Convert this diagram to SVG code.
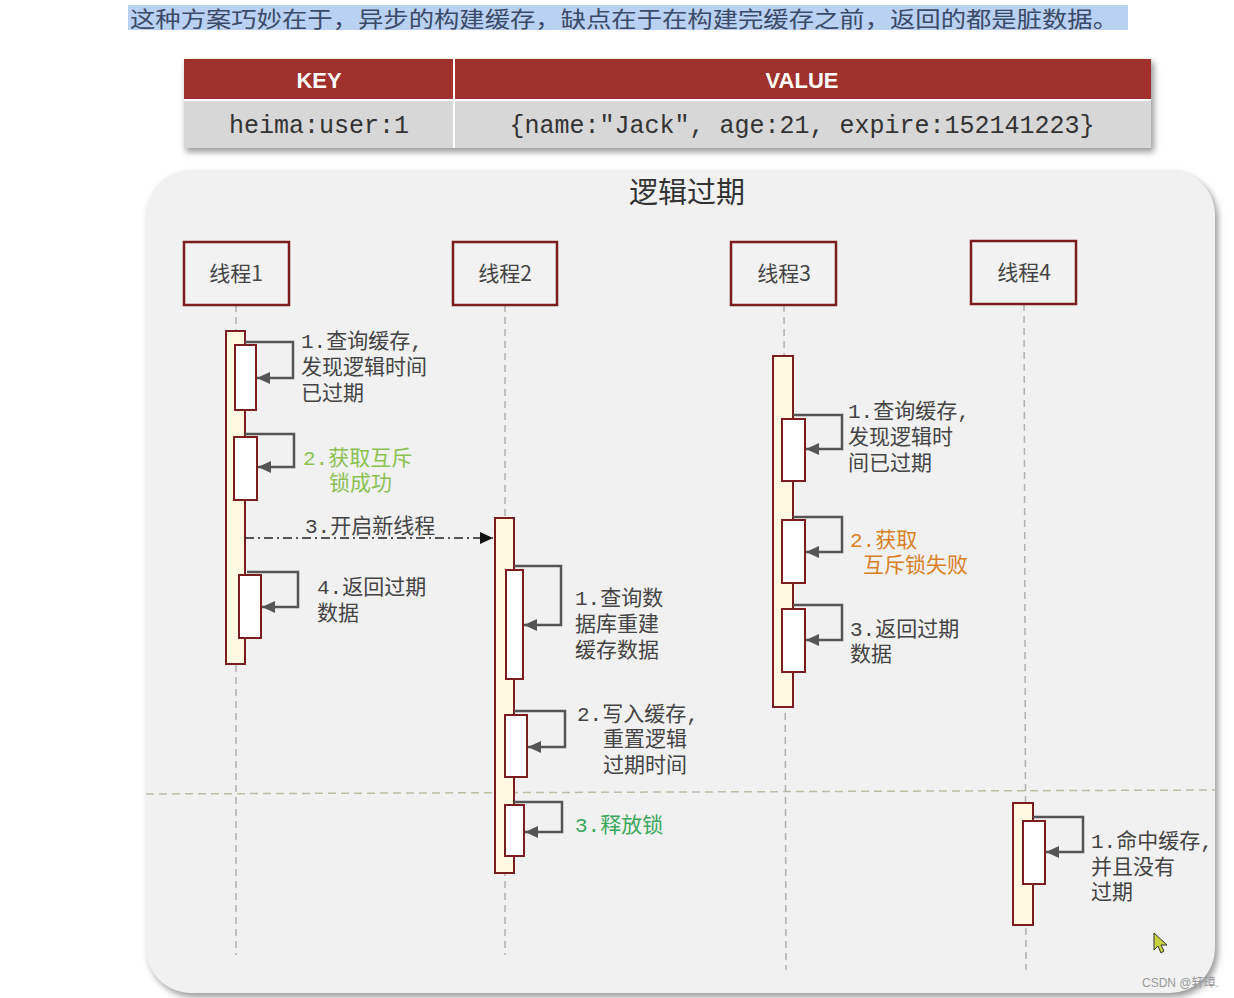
<svg xmlns="http://www.w3.org/2000/svg" width="1234" height="998" viewBox="0 0 1234 998">
<defs>
<style>
.lbl{font-family:"Liberation Mono","Noto Sans CJK SC",monospace;font-size:21px;fill:#444}
.th{font-family:"Noto Sans CJK SC","Liberation Sans",sans-serif;font-size:21px;fill:#444;text-anchor:middle}
.head{stroke:#7b1c1f;stroke-width:2.5;fill:#f2f2f2}
.act{stroke:#7b1c1f;stroke-width:2;fill:#fff9e1}
.inn{stroke:#7b1c1f;stroke-width:2;fill:#ffffff}
.life{stroke:#b0b0b0;stroke-width:1.5;stroke-dasharray:7 5;fill:none}
.self{stroke:#555;stroke-width:2.5;fill:none}
.mono{font-family:"Liberation Mono","DejaVu Sans Mono",monospace;font-size:25px;fill:#333;text-anchor:middle}
</style>
<marker id="ah" markerUnits="userSpaceOnUse" markerWidth="14" markerHeight="14" refX="13" refY="7" orient="auto">
<path d="M0,1 L13,7 L0,13 Z" fill="#555"/>
</marker>
<marker id="ahb" markerUnits="userSpaceOnUse" markerWidth="14" markerHeight="14" refX="13" refY="7" orient="auto">
<path d="M0,1 L13,7 L0,13 Z" fill="#111"/>
</marker>
<filter id="sh" x="-5%" y="-5%" width="110%" height="115%">
<feGaussianBlur stdDeviation="3"/>
</filter>
</defs>
<rect width="1234" height="998" fill="#ffffff"/>

<!-- top highlighted text -->
<g id="top-text">
<rect x="128" y="5" width="1000" height="25" fill="#b9d1f3"/>
<text x="130" y="27" font-family="Noto Sans CJK SC, sans-serif" font-size="22" textLength="988" lengthAdjust="spacingAndGlyphs" fill="#3b4a66">这种方案巧妙在于，异步的构建缓存，缺点在于在构建完缓存之前，返回的都是脏数据。</text>
</g>

<!-- table -->
<g id="table">
<rect x="186" y="62" width="968" height="90" fill="#999" filter="url(#sh)"/>
<rect x="184" y="59" width="967" height="41" fill="#a0302c"/>
<rect x="184" y="100" width="967" height="48" fill="#d7d7d7"/>
<line x1="454" y1="59" x2="454" y2="148" stroke="#ffffff" stroke-width="2"/>
<line x1="184" y1="100" x2="1151" y2="100" stroke="#ffffff" stroke-width="2"/>
<text x="319" y="88" text-anchor="middle" font-family="Liberation Sans, sans-serif" font-weight="bold" font-size="22" fill="#ffffff">KEY</text>
<text x="802" y="88" text-anchor="middle" font-family="Liberation Sans, sans-serif" font-weight="bold" font-size="22" fill="#ffffff">VALUE</text>
<text x="319" y="133" class="mono">heima:user:1</text>
<text x="802" y="133" class="mono">{name:"Jack", age:21, expire:152141223}</text>
</g>

<!-- panel -->
<g id="panel">
<rect x="149" y="174" width="1069" height="823" rx="45" fill="#9a9a9a" filter="url(#sh)"/>
<rect x="146" y="170" width="1069" height="823" rx="45" fill="#f1f1f1"/>
<text x="687" y="203" text-anchor="middle" font-family="Noto Sans CJK SC, sans-serif" font-size="29" fill="#333">逻辑过期</text>
<line x1="146" y1="794" x2="1215" y2="790" stroke="#b8c0a2" stroke-width="1.5" stroke-dasharray="8 5"/>
</g>

<!-- lifelines -->
<g id="lifelines">
<line class="life" x1="236" y1="305" x2="236" y2="955"/>
<line class="life" x1="505" y1="305" x2="505" y2="955"/>
<line class="life" x1="784" y1="305" x2="786" y2="970"/>
<line class="life" x1="1024" y1="304" x2="1026" y2="970"/>
</g>

<g id="thread1">
<rect class="head" x="184" y="242" width="105" height="63"/>
<text class="th" x="236" y="281">线程1</text>
<rect class="act" x="226" y="331" width="19" height="333"/>
<rect class="inn" x="235" y="345" width="21" height="65"/>
<rect class="inn" x="234" y="437" width="23" height="63"/>
<rect class="inn" x="239" y="575" width="22" height="63"/>
</g>

<g id="thread2">
<rect class="head" x="453" y="242" width="104" height="63"/>
<text class="th" x="505" y="281">线程2</text>
<rect class="act" x="495" y="518" width="19" height="355"/>
<rect class="inn" x="506" y="570" width="17" height="109"/>
<rect class="inn" x="505" y="715" width="22" height="62"/>
<rect class="inn" x="505" y="805" width="19" height="51"/>
</g>

<g id="thread3">
<rect class="head" x="731" y="242" width="105" height="63"/>
<text class="th" x="784" y="281">线程3</text>
<rect class="act" x="773" y="356" width="20" height="351"/>
<rect class="inn" x="782" y="419" width="23" height="62"/>
<rect class="inn" x="782" y="520" width="23" height="63"/>
<rect class="inn" x="782" y="609" width="23" height="63"/>
</g>

<g id="thread4">
<rect class="head" x="971" y="241" width="105" height="63"/>
<text class="th" x="1024" y="280">线程4</text>
<rect class="act" x="1013" y="803" width="20" height="122"/>
<rect class="inn" x="1023" y="821" width="22" height="63"/>
</g>

<!-- connectors -->
<g id="connectors">
<path class="self" d="M245,342 H293 V378 H257" marker-end="url(#ah)"/>
<path class="self" d="M245,434 H294 V467 H258" marker-end="url(#ah)"/>
<path class="self" d="M247,572 H298 V607 H262" marker-end="url(#ah)"/>
<path d="M245,538 H493" stroke="#222" stroke-width="1.5" stroke-dasharray="9 4 2 4" fill="none" marker-end="url(#ahb)"/>
<path class="self" d="M514,566 H561 V625 H524" marker-end="url(#ah)"/>
<path class="self" d="M514,711 H565 V747 H528" marker-end="url(#ah)"/>
<path class="self" d="M514,802 H562 V832 H525" marker-end="url(#ah)"/>
<path class="self" d="M793,415 H842 V449 H806" marker-end="url(#ah)"/>
<path class="self" d="M793,517 H842 V552 H806" marker-end="url(#ah)"/>
<path class="self" d="M793,605 H842 V640 H806" marker-end="url(#ah)"/>
<path class="self" d="M1033,817 H1083 V852 H1046" marker-end="url(#ah)"/>
</g>

<!-- labels -->
<g id="labels">
<text class="lbl" x="301" y="348">1.查询缓存,</text>
<text class="lbl" x="301" y="374">发现逻辑时间</text>
<text class="lbl" x="301" y="400">已过期</text>
<text class="lbl" x="303" y="465" style="fill:#8cc152">2.获取互斥</text>
<text class="lbl" x="329" y="490" style="fill:#8cc152">锁成功</text>
<text class="lbl" x="305" y="533">3.开启新线程</text>
<text class="lbl" x="317" y="594">4.返回过期</text>
<text class="lbl" x="317" y="620">数据</text>
<text class="lbl" x="575" y="605">1.查询数</text>
<text class="lbl" x="575" y="631">据库重建</text>
<text class="lbl" x="575" y="657">缓存数据</text>
<text class="lbl" x="577" y="721">2.写入缓存,</text>
<text class="lbl" x="603" y="746">重置逻辑</text>
<text class="lbl" x="603" y="772">过期时间</text>
<text class="lbl" x="575" y="832" style="fill:#3aa85a">3.释放锁</text>
<text class="lbl" x="848" y="418">1.查询缓存,</text>
<text class="lbl" x="848" y="444">发现逻辑时</text>
<text class="lbl" x="848" y="470">间已过期</text>
<text class="lbl" x="850" y="547" style="fill:#d98026">2.获取</text>
<text class="lbl" x="863" y="572" style="fill:#d98026">互斥锁失败</text>
<text class="lbl" x="850" y="636">3.返回过期</text>
<text class="lbl" x="850" y="661">数据</text>
<text class="lbl" x="1091" y="848">1.命中缓存,</text>
<text class="lbl" x="1091" y="874">并且没有</text>
<text class="lbl" x="1091" y="899">过期</text>
</g>

<g id="cursor">
<path d="M1154,933 L1154,950 L1158,946 L1161,953 L1164,951 L1161,945 L1167,945 Z" fill="#c8d23a" stroke="#333" stroke-width="1"/>
</g>
<text x="1142" y="987" font-family="Liberation Sans, Noto Sans CJK SC, sans-serif" font-size="12" fill="#999">CSDN @轩璋.</text>
</svg>
